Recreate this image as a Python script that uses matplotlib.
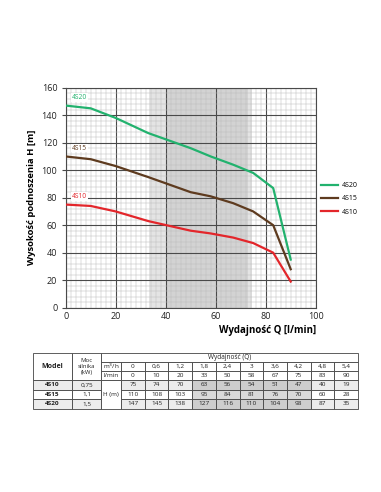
import matplotlib.pyplot as plt
from matplotlib.patches import Rectangle

plt.rcParams['font.family'] = ['Open Sans', 'DejaVu Sans']

# data from the reference table
flow_m3h = ['0', '0,6', '1,2', '1,8', '2,4', '3', '3,6', '4,2', '4,8', '5,4']
flow_lmin = [0, 10, 20, 33, 50, 58, 67, 75, 83, 90]
models = ['4S10', '4S15', '4S20']
power_kw = ['0,75', '1,1', '1,5']
head_4s10 = [75, 74, 70, 63, 56, 54, 51, 47, 40, 19]
head_4s15 = [110, 108, 103, 95, 84, 81, 76, 70, 60, 28]
head_4s20 = [147, 145, 138, 127, 116, 110, 104, 98, 87, 35]
heads = [head_4s10, head_4s15, head_4s20]
colors = ['#e3262b', '#5e3b1f', '#22b26e']
work_range = (33.5, 74.5)

W, H = 381, 492
fig = plt.figure(figsize=(W / 100, H / 100), dpi=100)

def fx(px):
    return px / W

def fy(py):
    return 1 - py / H

x0, x1, y0, y1 = 65.7, 315.7, 87.7, 307.7
ax = fig.add_axes([fx(x0), fy(y1), fx(x1) - fx(x0), fy(y0) - fy(y1)])

ax.axvspan(*work_range, color='#e4e4e4', lw=0, zorder=0)
ax.axvspan(work_range[0] + 6.5, work_range[1] - 1.5, color='#d3d3d3', lw=0, zorder=0)

ax.set_xlim(0, 100)
ax.set_ylim(0, 160)
ax.set_xticks(range(0, 101, 20))
ax.set_yticks(range(0, 161, 20))
ax.set_xticks(range(0, 101, 2), minor=True)
ax.set_yticks(range(0, 161, 4), minor=True)
ax.grid(which='major', color='#4a4a4a', lw=0.8, zorder=1)
ax.grid(which='minor', color='#bcbcbc', lw=0.35, zorder=1)
ax.set_axisbelow(True)
for s in ax.spines.values():
    s.set_color('#4a4a4a')
    s.set_linewidth(0.8)
ax.tick_params(which='both', length=0, labelsize=6.5, colors='#222222', pad=3)
ax.tick_params(axis='y', which='major', length=3, direction='out', color='#4a4a4a')

for name, h, c in zip(models, heads, colors):
    ax.plot(flow_lmin, h, color=c, lw=1.6, zorder=3, label=name)
    ax.text(2.5, h[0] + 3.5, name, color=c, fontsize=4.8, va='bottom', ha='left', zorder=4,
            bbox=dict(facecolor='white', edgecolor='none', pad=0.6))

handles, labels = ax.get_legend_handles_labels()
leg = fig.legend(handles[::-1], labels[::-1], loc='upper left',
                 bbox_to_anchor=(fx(315), fy(176)), frameon=False, fontsize=5,
                 handlelength=2.4, labelspacing=0.9, handletextpad=0.6)

ax.set_ylabel('Wysokość podnoszenia H [m]', fontsize=6.8, fontweight='bold', labelpad=4)
ax.set_xlabel('Wydajność Q [l/min]', fontsize=7, fontweight='bold', loc='right', labelpad=3)

# table
tx = fig.add_axes([0, 0, 1, 1])
tx.set_xlim(0, W)
tx.set_ylim(H, 0)
tx.axis('off')

col_model, col_kw, col_unit, col_v0, col_end = 33, 72, 101, 121, 358
cw = (col_end - col_v0) / len(flow_lmin)
rows = [353, 361.5, 371, 380, 389.5, 399, 408.5]
light, dark, dark2 = '#ececec', '#cdcdcd', '#d9d9d9'
edge = '#444444'
fs = 4.6

def cell(xa, xb, ya, yb, text='', face='white', bold=False, size=fs):
    tx.add_patch(Rectangle((xa, ya), xb - xa, yb - ya, facecolor=face, edgecolor=edge, lw=0.6))
    if text:
        tx.text((xa + xb) / 2, (ya + yb) / 2, text, ha='center', va='center', fontsize=size,
                fontweight='bold' if bold else 'normal', color='#222222')

cell(col_model, col_kw, rows[0], rows[3], 'Model', bold=True, size=5)
cell(col_kw, col_unit, rows[0], rows[3], 'Moc\nsilnika\n(kW)', size=4.3)
cell(col_unit, col_end, rows[0], rows[1], 'Wydajność (Q)', size=4.7)
cell(col_unit, col_v0, rows[1], rows[2], 'm$^3$/h')
cell(col_unit, col_v0, rows[2], rows[3], 'l/min')
for i, (m3, lm) in enumerate(zip(flow_m3h, flow_lmin)):
    xa = col_v0 + i * cw
    cell(xa, xa + cw, rows[1], rows[2], m3)
    cell(xa, xa + cw, rows[2], rows[3], str(lm))
for r, (name, kw, h) in enumerate(zip(models, power_kw, heads)):
    ya, yb = rows[3 + r], rows[4 + r]
    base = 'white' if r == 1 else light
    cell(col_model, col_kw, ya, yb, name, face=base, bold=True)
    cell(col_kw, col_unit, ya, yb, kw, face=base)
    for i, v in enumerate(h):
        xa = col_v0 + i * cw
        inside = 33 <= flow_lmin[i] <= 75
        face = (dark2 if r == 1 else dark) if inside else base
        cell(xa, xa + cw, ya, yb, str(v), face=face)
# H (m) cell spans the three model rows
cell(col_unit, col_v0, rows[3], rows[6], 'H (m)')

fig.savefig('out.png', dpi=100)
